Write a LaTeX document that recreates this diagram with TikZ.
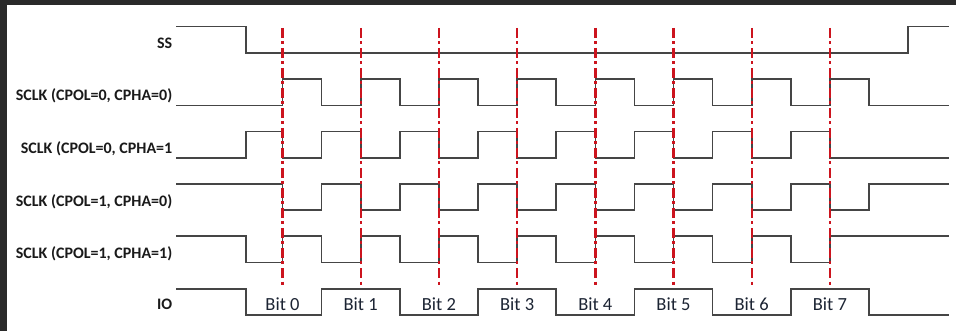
\documentclass[tikz,border=0pt]{standalone}
\usepackage{fontspec}
\setmainfont{Carlito}
\definecolor{framecol}{HTML}{2A2A2A}
\definecolor{wavecol}{HTML}{454545}
\definecolor{markcol}{HTML}{CC141E}
\definecolor{labcol}{HTML}{1A1A1A}
\definecolor{bitcol}{HTML}{1C2433}
\tikzset{
  wave/.style={draw=wavecol, line width=1.6pt, line join=miter},
  bitmark/.style={draw=markcol, line width=2.4pt, dash pattern=on 10pt off 3.5pt on 3pt off 3.5pt},
  sidelab/.style={anchor=base east, inner sep=0pt, text=labcol, font=\fontsize{16}{19}\selectfont\bfseries},
  bitlab/.style={anchor=base, inner sep=0pt, text=bitcol, font=\fontsize{18.5}{22}\selectfont},
}
\begin{document}
\begin{tikzpicture}[x=1pt,y=-1pt]
\useasboundingbox (0,0) rectangle (956,331);
\fill[white] (0,0) rectangle (956,331);
\fill[framecol] (0,0) rectangle (956,5);
\fill[framecol] (0,0) rectangle (6.5,331);
% levels
\def\xs{176}\def\xp{246}\def\xe{949}\def\xo{282.5}\def\st{78.2}\def\hs{39.1}
% SS
\draw[wave] (\xs,26.7) -- (\xp,26.7) -- (\xp,53) -- (908.1,53) -- (908.1,26.7) -- (\xe,26.7);
% SCLK CPOL=0 CPHA=0
\draw[wave] (\xs,105.4) foreach \k in {0,...,7} { -- ({\xo+\st*\k},105.4) -- ({\xo+\st*\k},79.1) -- ({\xo+\st*\k+\hs},79.1) -- ({\xo+\st*\k+\hs},105.4) } -- (\xe,105.4);
% SCLK CPOL=0 CPHA=1
\draw[wave] (\xs,157.8) -- (\xp,157.8) -- (\xp,131.5) foreach \k in {0,...,6} { -- ({\xo+\st*\k},131.5) -- ({\xo+\st*\k},157.8) -- ({\xo+\st*\k+\hs},157.8) -- ({\xo+\st*\k+\hs},131.5) } -- ({\xo+\st*7},131.5) -- ({\xo+\st*7},157.8) -- (\xe,157.8);
% SCLK CPOL=1 CPHA=0
\draw[wave] (\xs,183.9) foreach \k in {0,...,7} { -- ({\xo+\st*\k},183.9) -- ({\xo+\st*\k},210.2) -- ({\xo+\st*\k+\hs},210.2) -- ({\xo+\st*\k+\hs},183.9) } -- (\xe,183.9);
% SCLK CPOL=1 CPHA=1
\draw[wave] (\xs,236.3) -- (\xp,236.3) -- (\xp,262.6) foreach \k in {0,...,6} { -- ({\xo+\st*\k},262.6) -- ({\xo+\st*\k},236.3) -- ({\xo+\st*\k+\hs},236.3) -- ({\xo+\st*\k+\hs},262.6) } -- ({\xo+\st*7},262.6) -- ({\xo+\st*7},236.3) -- (\xe,236.3);
% IO
\draw[wave] (\xs,288.7) -- (\xp,288.7) -- (\xp,315) foreach \k in {0,2,4,6} { -- ({\xo+\st*\k+\hs},315) -- ({\xo+\st*\k+\hs},288.7) -- ({\xo+\st*(\k+1)+\hs},288.7) -- ({\xo+\st*(\k+1)+\hs},315) } -- (\xe,315);
% bit markers
\foreach \k in {0,...,7} {
  \coordinate (mt\k) at ({\xo+\st*\k},28);
  \coordinate (mb\k) at ({\xo+\st*\k},286);
  \draw[bitmark] (mt\k) -- (mb\k);
  \node[bitlab] (bit\k) at ({\xo+\st*\k},310.5) {Bit \k};
}
% side labels
\node[sidelab] (lss) at (172.5,48.5) {SS};
\node[sidelab] (l00) at (172.5,101) {SCLK (CPOL=0, CPHA=0)};
\node[sidelab] (l01) at (172.5,153.5) {SCLK (CPOL=0, CPHA=1};
\node[sidelab] (l10) at (172.5,206.5) {SCLK (CPOL=1, CPHA=0)};
\node[sidelab] (l11) at (172.5,258.5) {SCLK (CPOL=1, CPHA=1)};
\node[sidelab] (lio) at (172.5,309.5) {IO};
\end{tikzpicture}
\end{document}
